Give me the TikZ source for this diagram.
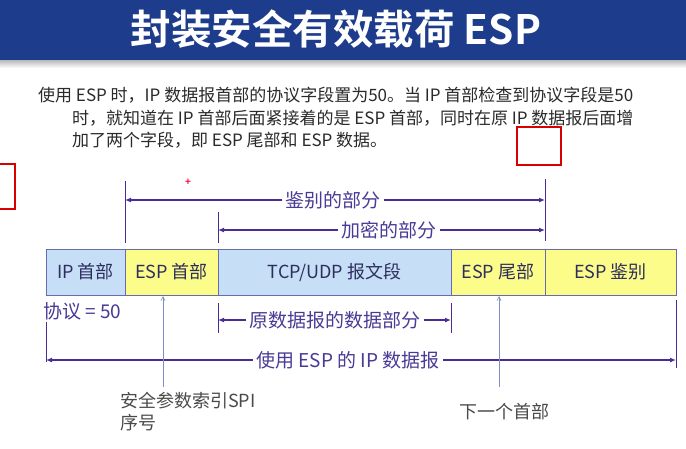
\documentclass[tikz,border=0pt]{standalone}
\usepackage{fontspec}
\setmainfont{Noto Sans CJK SC}[BoldFont={Noto Sans CJK SC Bold}]
\usetikzlibrary{arrows.meta}
\definecolor{barblue}{HTML}{1E3C8C}
\definecolor{cellblue}{HTML}{C6DEF6}
\definecolor{cellyellow}{HTML}{FCFC8A}
\definecolor{cellborder}{HTML}{6A6AAE}
\definecolor{arrowpurple}{HTML}{4A2C92}
\definecolor{labelpurple}{HTML}{4A3A96}
\definecolor{celltext}{HTML}{2E2E5E}
\definecolor{bodytext}{HTML}{2A2A2A}
\definecolor{thinblue}{HTML}{7F8FC4}
\begin{document}
\begin{tikzpicture}[x=1pt,y=-1pt,
  cell/.style={draw=cellborder,line width=0.8pt,minimum height=46pt,inner sep=0pt,text=celltext,font=\fontsize{18}{18}\selectfont},
  tick/.style={draw=arrowpurple,line width=1pt},
  dimarrow/.style={draw=arrowpurple,line width=1.6pt,-{Latex[length=6pt,width=5pt]}},
  dimlabel/.style={fill=white,inner sep=3pt,text=labelpurple,font=\fontsize{19}{19}\selectfont},
  bodyline/.style={anchor=west,inner sep=0pt,text=bodytext,font=\fontsize{17}{17}\selectfont},
  note/.style={anchor=west,inner sep=0pt,text=bodytext!85,font=\fontsize{18}{18}\selectfont},
  uparrow/.style={draw=thinblue,line width=0.6pt,-{Straight Barb[length=4pt,width=4pt]}},
  redbox/.style={draw=red!85!black,line width=1.4pt}]
\useasboundingbox (0,0) rectangle (686,448);
\fill[white] (0,0) rectangle (686,448);
% title bar
\fill[barblue] (0,0) rectangle (686,60);
\shade[top color=gray!55,bottom color=white] (0,60) rectangle (686,68);
\node[text=white,font=\fontsize{40.5}{40.5}\selectfont\bfseries] (title) at (336,29) {封装安全有效载荷 ESP};
% body text
\node[bodyline] (l1) at (38,95) {使用 ESP 时，IP 数据报首部的协议字段置为50。当 IP 首部检查到协议字段是50};
\node[bodyline] (l2) at (72,118) {时，就知道在 IP 首部后面紧接着的是 ESP 首部，同时在原 IP 数据报后面增};
\node[bodyline] (l3) at (72,140) {加了两个字段，即 ESP 尾部和 ESP 数据。};
% red boxes
\draw[redbox] (517,127) rectangle (561,165);
\draw[redbox] (-5,164) rectangle (15,209);
\node[text=red!80!magenta,font=\fontsize{10}{10}\selectfont\bfseries,inner sep=0pt] (plus) at (188,182) {+};
% cells
\node[cell,fill=cellblue,minimum width=79pt] (ip) at (85.5,272) {IP 首部};
\node[cell,fill=cellyellow,minimum width=93pt] (esph) at (171.5,272) {ESP 首部};
\node[cell,fill=cellblue,minimum width=233pt] (tcp) at (334.5,272) {TCP/UDP 报文段};
\node[cell,fill=cellyellow,minimum width=94pt] (espt) at (498,272) {ESP 尾部};
\node[cell,fill=cellyellow,minimum width=131pt] (espa) at (610.5,272) {ESP 鉴别};
% upper ticks
\coordinate (t1a) at (125,181); \coordinate (t1b) at (125,243);
\coordinate (t2a) at (218,212); \coordinate (t2b) at (218,243);
\coordinate (t3a) at (545,179); \coordinate (t3b) at (545,241);
\draw[tick] (t1a) -- (t1b);
\draw[tick] (t2a) -- (t2b);
\draw[tick] (t3a) -- (t3b);
% authenticated part
\node[dimlabel] (auth) at (333,200) {鉴别的部分};
\coordinate (a1l) at (125,200); \coordinate (a1r) at (545,200);
\draw[dimarrow] (auth.west) -- (a1l);
\draw[dimarrow] (auth.east) -- (a1r);
% encrypted part
\node[dimlabel] (enc) at (389,230) {加密的部分};
\coordinate (a2l) at (218,230); \coordinate (a2r) at (545,230);
\draw[dimarrow] (enc.west) -- (a2l);
\draw[dimarrow] (enc.east) -- (a2r);
% lower ticks
\coordinate (b1a) at (218,303); \coordinate (b1b) at (218,333);
\coordinate (b2a) at (451,303); \coordinate (b2b) at (451,333);
\coordinate (b3a) at (46,322); \coordinate (b3b) at (46,362);
\coordinate (b4a) at (676,300); \coordinate (b4b) at (676,368);
\draw[tick] (b1a) -- (b1b);
\draw[tick] (b2a) -- (b2b);
\draw[tick] (b3a) -- (b3b);
\draw[tick] (b4a) -- (b4b);
\node[anchor=west,inner sep=0pt,text=labelpurple,font=\fontsize{19}{19}\selectfont] (proto) at (43,311) {协议 = 50};
% original data part
\node[dimlabel] (orig) at (335,320) {原数据报的数据部分};
\coordinate (a3l) at (218,320); \coordinate (a3r) at (451,320);
\draw[dimarrow] (orig.west) -- (a3l);
\draw[dimarrow] (orig.east) -- (a3r);
% whole datagram
\node[dimlabel] (whole) at (348,360) {使用 ESP 的 IP 数据报};
\coordinate (a4l) at (46,360); \coordinate (a4r) at (676,360);
\draw[dimarrow] (whole.west) -- (a4l);
\draw[dimarrow] (whole.east) -- (a4r);
% pointers
\coordinate (p1) at (163,387); \coordinate (p1t) at (163,296);
\coordinate (p2) at (499,387); \coordinate (p2t) at (499,296);
\draw[uparrow] (p1) -- (p1t);
\draw[uparrow] (p2) -- (p2t);
\node[note] (spi) at (120,401) {安全参数索引SPI};
\node[note] (seq) at (120,423) {序号};
\node[note] (next) at (459,412) {下一个首部};
\end{tikzpicture}
\end{document}
